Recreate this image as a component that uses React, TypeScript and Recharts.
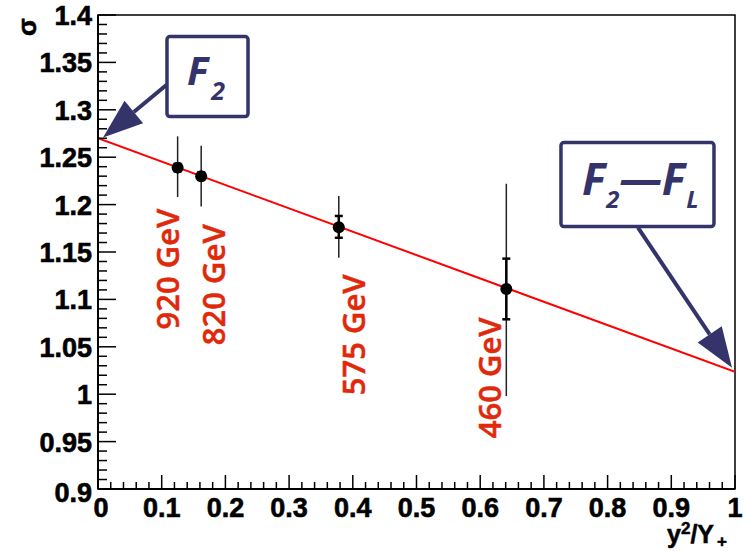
import {
  ComposedChart,
  XAxis,
  YAxis,
  Line,
  Scatter,
  ErrorBar,
  ReferenceArea,
  ReferenceLine,
  ReferenceDot,
} from "recharts";

// measured reduced cross sections at fixed x, Q2 for the four beam energies
const beamEnergies = ["920 GeV", "820 GeV", "575 GeV", "460 GeV"];
const yScaled = [0.125, 0.162, 0.378, 0.641];
const sigmaR = [1.239, 1.23, 1.176, 1.111];
const totErrLow = [0.031, 0.032, 0.032, 0.113];
const totErrHigh = [0.033, 0.032, 0.033, 0.111];
const statErrLow = [0.004, 0.004, 0.011, 0.032];
const statErrHigh = [0.004, 0.004, 0.012, 0.032];

// straight-line fit: intercept F2, end point F2 - FL
const fitX = [0, 1];
const fitSigma = [1.27, 1.0235];

const xMajorTicks = [0, 0.1, 0.2, 0.3, 0.4, 0.5, 0.6, 0.7, 0.8, 0.9, 1];
const yMajorTicks = [0.9, 0.95, 1, 1.05, 1.1, 1.15, 1.2, 1.25, 1.3, 1.35, 1.4];

// label placement (data coords)
const energyLabelX = [0.109, 0.1805, 0.4, 0.614];
const energyLabelY = [1.132, 1.1155, 1.0627, 1.0173];

const NAVY = "#34346b";
const RED = "#e0290b";
const AXIS_FONT = "'Liberation Sans', Arial, sans-serif";
const NOTE_FONT = "'Open Sans', 'Noto Sans', sans-serif";

const points = yScaled.map((x, i) => ({
  x,
  y: sigmaR[i],
  tot: [totErrLow[i], totErrHigh[i]],
  stat: [statErrLow[i], statErrHigh[i]],
}));
const fitLine = fitX.map((x, i) => ({ x, y: fitSigma[i] }));

// minor ticks between the majors
const withMinors = (majors: number[], parts: number) => {
  const out: number[] = [];
  for (let i = 0; i < majors.length - 1; i++) {
    const step = (majors[i + 1] - majors[i]) / parts;
    for (let k = 0; k < parts; k++) out.push(+(majors[i] + k * step).toFixed(4));
  }
  out.push(majors[majors.length - 1]);
  return out;
};
const xTicks = withMinors(xMajorTicks, 5);
const yTicks = withMinors(yMajorTicks, 5);

const isMajor = (v: number, list: number[]) => list.some((m) => Math.abs(m - v) < 1e-6);
const fmt = (v: number) => String(+v.toFixed(2));

const XTick = (props: any) => {
  const { x, y, payload } = props;
  const v = payload.value;
  const major = isMajor(v, xMajorTicks);
  return (
    <g>
      <line x1={x} y1={y} x2={x} y2={y - (major ? 14 : 7)} stroke="#000" strokeWidth={1.5} />
      {major && (
        <text
          x={x + (v === 0 ? 3 : 0)}
          y={y + 28}
          textAnchor="middle"
          fontFamily={AXIS_FONT}
          fontWeight={700}
          fontSize={27}
          fill="#000"
          stroke="#000"
          strokeWidth={0.6}
        >
          {fmt(v)}
        </text>
      )}
    </g>
  );
};

const YTick = (props: any) => {
  const { x, y, payload } = props;
  const v = payload.value;
  const major = isMajor(v, yMajorTicks);
  const bottom = Math.abs(v - 0.9) < 1e-6;
  return (
    <g>
      <line x1={x} y1={y} x2={x + (major ? 18 : 9)} y2={y} stroke="#000" strokeWidth={1.5} />
      {major && (
        <text
          x={x - 6}
          y={y + (bottom ? 13 : 10)}
          textAnchor="end"
          fontFamily={AXIS_FONT}
          fontWeight={700}
          fontSize={27}
          fill="#000"
          stroke="#000"
          strokeWidth={0.6}
        >
          {fmt(v)}
        </text>
      )}
    </g>
  );
};

const Arrow = (p: any) => {
  const { x1, y1, x2, y2 } = p;
  const dx = x2 - x1;
  const dy = y2 - y1;
  const len = Math.sqrt(dx * dx + dy * dy);
  const ux = dx / len;
  const uy = dy / len;
  const bx = x2 - ux * 40;
  const by = y2 - uy * 40;
  const hw = 14.5;
  return (
    <g>
      <line x1={x1} y1={y1} x2={bx} y2={by} stroke={NAVY} strokeWidth={4} />
      <polygon
        points={`${x2},${y2} ${bx - uy * hw},${by + ux * hw} ${bx + uy * hw},${by - ux * hw}`}
        fill={NAVY}
      />
    </g>
  );
};

const F2Box = (p: any) => (
  <g>
    <rect x={p.x} y={p.y} width={p.width} height={p.height} rx={3} fill="#fff" stroke={NAVY} strokeWidth={3.5} />
    <text x={p.x + 20} y={p.y + 48} fontFamily={NOTE_FONT} fontStyle="italic" fontWeight={700} fill={NAVY}>
      <tspan fontSize={40}>F</tspan>
      <tspan fontSize={25} dx={3} dy={15}>2</tspan>
    </text>
  </g>
);

const FLBox = (p: any) => (
  <g>
    <rect x={p.x} y={p.y} width={p.width} height={p.height} rx={3} fill="#fff" stroke={NAVY} strokeWidth={3.5} />
    <text x={p.x + 21} y={p.y + 52} fontFamily={NOTE_FONT} fontStyle="italic" fontWeight={700} fill={NAVY}>
      <tspan fontSize={44}>F</tspan>
      <tspan fontSize={24} dx={1} dy={13}>2</tspan>
      <tspan fontSize={44} dy={-13}>—</tspan>
      <tspan fontSize={44}>F</tspan>
      <tspan fontSize={24} dx={1} dy={13}>L</tspan>
    </text>
  </g>
);

const energyLabel = (text: string) => (p: any) => (
  <text
    x={p.cx}
    y={p.cy}
    transform={`rotate(-90, ${p.cx}, ${p.cy})`}
    textAnchor="middle"
    dominantBaseline="central"
    fontFamily={NOTE_FONT}
    fontWeight={600}
    fontSize={31}
    fill={RED}
    stroke={RED}
    strokeWidth={0.5}
  >
    {text}
  </text>
);

const YTitle = (p: any) => {
  const vb = p.viewBox;
  const cx = vb.x + 27;
  const cy = vb.y + 12;
  return (
    <text
      x={cx}
      y={cy}
      transform={`rotate(-90, ${cx}, ${cy})`}
      textAnchor="middle"
      dominantBaseline="central"
      fontFamily={AXIS_FONT}
      fontWeight={700}
      fontSize={26}
      fill="#000"
      stroke="#000"
      strokeWidth={0.6}
    >
      σ
    </text>
  );
};

const XTitle = (p: any) => {
  const vb = p.viewBox;
  return (
    <text
      x={vb.x + vb.width - 68}
      y={vb.y + 54}
      fontFamily={AXIS_FONT}
      fontWeight={700}
      fontSize={25}
      fill="#000"
      stroke="#000"
      strokeWidth={0.5}
    >
      y
      <tspan fontSize={17} dy={-9}>2</tspan>
      <tspan dy={9}>/Y</tspan>
      <tspan fontSize={17} dx={3} dy={4}>+</tspan>
    </text>
  );
};

export default function App() {
  return (
    <div style={{ position: "absolute", left: 0, top: 0, width: 743, height: 551, background: "#fff" }}>
      <ComposedChart width={743} height={551} margin={{ top: 15, right: 8, left: 0, bottom: 0 }}>
        <XAxis
          type="number"
          dataKey="x"
          domain={[0, 1]}
          ticks={xTicks}
          interval={0}
          tick={<XTick />}
          tickSize={0}
          tickMargin={0}
          tickLine={false}
          height={62}
          axisLine={{ stroke: "#000", strokeWidth: 2 }}
          allowDataOverflow
          label={<XTitle />}
        />
        <YAxis
          type="number"
          domain={[0.9, 1.4]}
          ticks={yTicks}
          interval={0}
          tick={<YTick />}
          tickSize={0}
          tickMargin={0}
          tickLine={false}
          width={98}
          axisLine={{ stroke: "#000", strokeWidth: 2 }}
          allowDataOverflow
          label={<YTitle />}
        />
        <ReferenceArea x1={0} x2={1} y1={0.9} y2={1.4} fill="none" stroke="#000" strokeWidth={1.5} />
        <Line
          data={fitLine}
          dataKey="y"
          type="linear"
          stroke="#ff0000"
          strokeWidth={2}
          dot={false}
          isAnimationActive={false}
        />
        <Scatter
          data={points}
          dataKey="y"
          isAnimationActive={false}
          shape={(p: any) => <circle cx={p.cx} cy={p.cy} r={6} fill="#000" />}
        >
          <ErrorBar dataKey="tot" direction="y" width={0} stroke="#222" strokeWidth={1.5} isAnimationActive={false} />
          <ErrorBar dataKey="stat" direction="y" width={4} stroke="#000" strokeWidth={2.5} isAnimationActive={false} />
        </Scatter>
        {beamEnergies.map((e, i) => (
          <ReferenceDot key={e} x={energyLabelX[i]} y={energyLabelY[i]} r={0} shape={energyLabel(e)} />
        ))}
        <ReferenceArea x1={0.1083} x2={0.2355} y1={1.2929} y2={1.3773} shape={<F2Box />} />
        <ReferenceArea x1={0.7268} x2={0.967} y1={1.1768} y2={1.2654} shape={<FLBox />} />
        <ReferenceLine
          segment={[
            { x: 0.1083, y: 1.3267 },
            { x: 0.0079, y: 1.2707 },
          ]}
          shape={<Arrow />}
        />
        <ReferenceLine
          segment={[
            { x: 0.8477, y: 1.1757 },
            { x: 0.9953, y: 1.028 },
          ]}
          shape={<Arrow />}
        />
      </ComposedChart>
    </div>
  );
}
